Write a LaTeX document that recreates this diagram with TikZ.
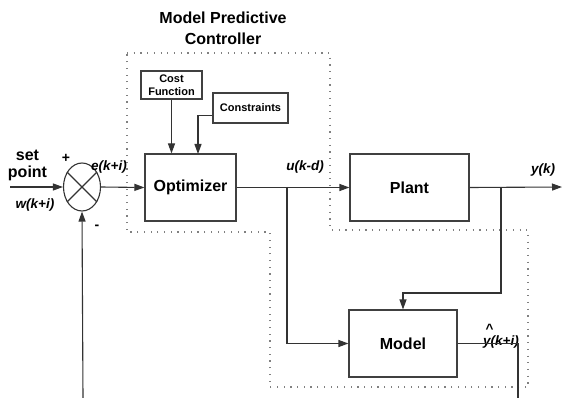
\documentclass[tikz,border=0pt]{standalone}
\usepackage{fontspec}
\setmainfont{Liberation Sans}
\usetikzlibrary{arrows.meta,shapes.geometric,calc}
\begin{document}
\begin{tikzpicture}[x=1pt,y=-1pt,
  blk/.style={draw=black!75, line width=1.1pt, inner sep=0pt, font=\fontsize{16}{16}\selectfont\bfseries},
  smallblk/.style={draw=black!75, line width=1.1pt, inner sep=0pt, align=center, font=\fontsize{11}{12.5}\selectfont\bfseries},
  conn/.style={draw=black!80, line width=1.1pt},
  arr/.style={conn, -{Triangle[length=10pt,width=7pt]}},
  sig/.style={font=\fontsize{13.5}{14}\selectfont\bfseries\itshape, inner sep=0pt},
  sign/.style={font=\fontsize{14}{14}\selectfont\bfseries, inner sep=0pt},
  bound/.style={draw=black!50, line width=1.2pt, dash pattern=on 1.2pt off 5.5pt}
]
\useasboundingbox (0,0) rectangle (562,398);

% controller boundary
\draw[bound] (127,53) -- (330,53) -- (330,230) -- (528,230) -- (528,387)
  -- (270,387) -- (270,232) -- (127,232) -- cycle;

% title
\node[font=\fontsize{16}{21}\selectfont\bfseries, align=center] (title) at (223,28.5)
  {Model Predictive\\Controller};

% blocks
\node[blk, minimum width=91, minimum height=67] (opt) at (190.5,187.5) {Optimizer};
\node[blk, minimum width=119, minimum height=67] (plant) at (409.5,187.5) {Plant};
\node[blk, minimum width=108, minimum height=67] (model) at (403,343.5) {Model};
\node[smallblk, minimum width=61, minimum height=28] (cost) at (171.5,85) {Cost\\Function};
\node[smallblk, minimum width=75, minimum height=30] (cons) at (250.5,108) {Constraints};

% summing junction
\node[draw=black!80, line width=1.1pt, ellipse, minimum width=37, minimum height=48, inner sep=0pt] (sum) at (82,187) {};
\draw[conn] (sum.45) -- (sum.225);
\draw[conn] (sum.135) -- (sum.315);

% labels
\node[font=\fontsize{16}{17.5}\selectfont\bfseries, align=center] (sp) at (27.5,165.5) {set\\point};
\node[sig] (w) at (35,205) {w(k+i)};
\node[sign] (plus) at (66,158) {+};
\node[sign] (minus) at (97,227) {-};
\node[sig] (e) at (109,167) {e(k+i)};
\node[sig] (u) at (305,167) {u(k-d)};
\node[sig] (y) at (543,170) {y(k)};
\node[sig] (yh) at (501,336) {\rlap{\raisebox{12pt}{\hspace{2.5pt}\normalfont\bfseries\textasciicircum}}y(k+i)};

% free ends
\coordinate (in) at (10,187);
\coordinate (out) at (562,187);
\coordinate (fb) at (83,398);
\coordinate (yb) at (518,398);
\coordinate (bu) at (287,187);
\coordinate (by) at (501,187);
\coordinate (ci) at (198,154);

% connectors
\draw[arr] (in) -- (sum.west);
\draw[arr] (sum.east) -- (opt.west);
\draw[arr] (cost.south) -- (cost.south |- opt.north);
\draw[arr] ($(cons.south west)+(0,-8)$) -| (ci);
\draw[arr] (opt.east) -- (plant.west);
\draw[arr] (bu) |- (model.west);
\draw[arr] (plant.east) -- (out);
\draw[arr] (by) -- (501,293) -| (model.north);
\draw[conn] (model.east) -| (yb);
\draw[arr] (fb) -- (sum.south);
\end{tikzpicture}
\end{document}
